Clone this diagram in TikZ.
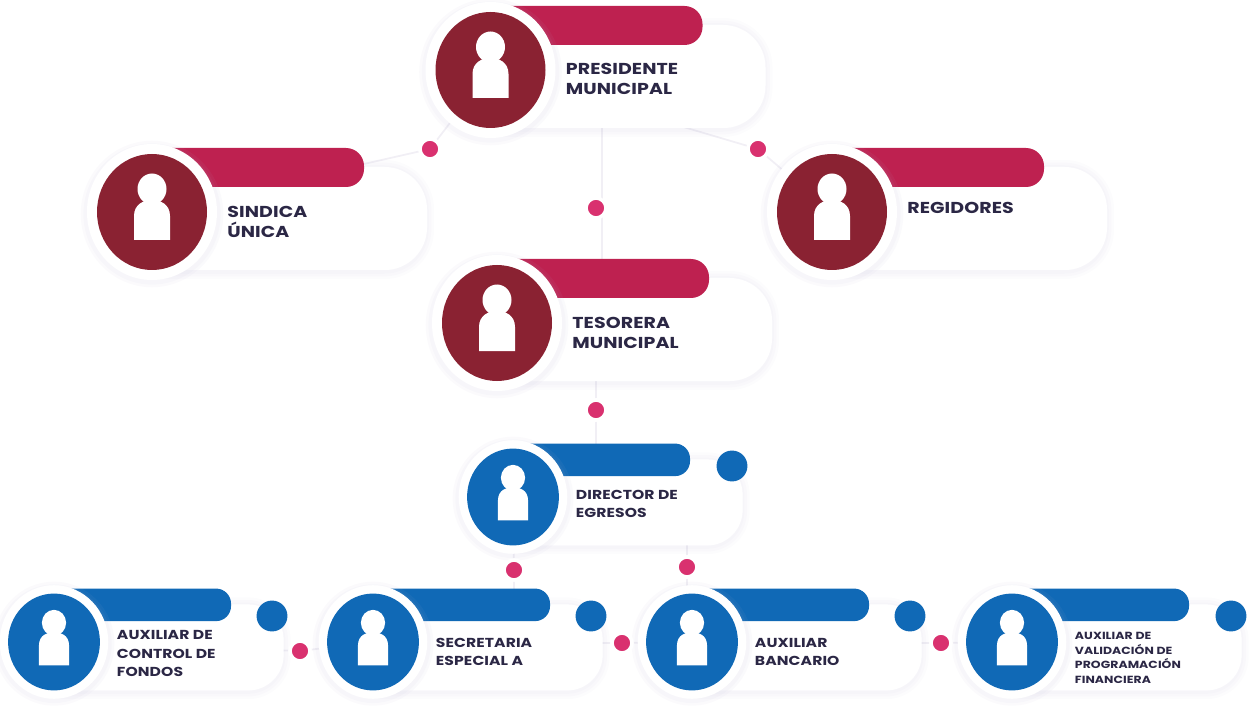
\documentclass[tikz,border=0pt]{standalone}
\usepackage{fontspec}
\setmainfont[FakeStretch=1.2,LetterSpace=0.6]{Poppins}
\usepackage{tikz}
\usetikzlibrary{backgrounds}

\definecolor{redDark}{HTML}{8A2232}
\definecolor{redBar}{HTML}{BE2150}
\definecolor{blueDark}{HTML}{1069B6}
\definecolor{blueBar}{HTML}{1069B6}
\definecolor{inkText}{HTML}{2B2745}
\definecolor{pinkDot}{HTML}{D9316F}
\definecolor{softLine}{HTML}{F1EFF5}
\definecolor{softShade}{HTML}{B9B2D2}

\tikzset{
    bigtext/.style={font=\fontsize{9}{11.8}\selectfont\bfseries},
    midtext/.style={font=\fontsize{7.4}{10.4}\selectfont\bfseries},
    tinytext/.style={font=\fontsize{5.9}{8.2}\selectfont\bfseries},
    pinkdot/.style={circle,fill=pinkDot,draw=white,line width=2pt,minimum size=20*0.567pt,inner sep=0pt},
    bluedot/.style={circle,fill=blueDark,minimum size=31*0.567pt,inner sep=0pt},
    softlink/.style={draw=softLine,line width=1pt}
}

% name, x, y, scale, colour set, text shift, text style, text
\newcommand{\orgcard}[8]{
    \begin{scope}[shift={(#2,#3)},scale=#4]
        \pgfmathsetlengthmacro{\cardrad}{#4*0.85cm}
        \pgfmathsetlengthmacro{\barrad}{#4*0.36cm}
        \foreach \w in {8,5,2}
            \draw[softShade,opacity=0.045,line width=\w pt,rounded corners=\cardrad] (-30,-45) rectangle (275,60);
        \fill[white,rounded corners=\cardrad] (-30,-45) rectangle (275,58);
        \fill[#5Bar,rounded corners=\barrad] (0,-64) rectangle (212,-25);
        \foreach \w in {6,3}
            \draw[softShade,opacity=0.06,line width=\w pt] (0,2) circle [x radius=66,y radius=68];
        \fill[white] (0,0) circle [x radius=65,y radius=68];
        \fill[#5Dark] (0,0) circle [x radius=55,y radius=58];
        \fill[white] (0,-23) circle [x radius=14.5,y radius=15.5];
        \fill[white] (-18,28) -- (-18,4) .. controls (-18,-8) and (-8,-12) .. (0,-12)
            .. controls (8,-12) and (18,-8) .. (18,4) -- (18,28) -- cycle;
        \node[inner sep=0pt] (#1) at (0,0) {};
        \node[#7,anchor=west,align=left,text=inkText,inner sep=0pt] (#1text) at (75,#6) {#8};
    \end{scope}
}

\begin{document}
\begin{tikzpicture}[x=0.02cm,y=-0.02cm]
    \useasboundingbox (0,0) rectangle (1249,706);

    \orgcard{presidente}{490.5}{70}{1}{red}{9}{bigtext}{PRESIDENTE\\MUNICIPAL}
    \orgcard{sindica}{152}{212}{1}{red}{10}{bigtext}{SINDICA\\ÚNICA}
    \orgcard{regidores}{832}{212}{1}{red}{-4}{bigtext}{REGIDORES}
    \orgcard{tesorera}{497}{323}{1}{red}{10}{bigtext}{TESORERA\\MUNICIPAL}
    \orgcard{director}{513}{497}{0.835}{blue}{8}{midtext}{DIRECTOR DE\\EGRESOS}
    \orgcard{fondos}{54}{642}{0.835}{blue}{14}{midtext}{AUXILIAR DE\\CONTROL DE\\FONDOS}
    \orgcard{secretaria}{373}{642}{0.835}{blue}{12}{midtext}{SECRETARIA\\ESPECIAL A}
    \orgcard{bancario}{692}{642}{0.835}{blue}{12}{midtext}{AUXILIAR\\BANCARIO}
    \orgcard{validacion}{1012}{642}{0.835}{blue}{19}{tinytext}{AUXILIAR DE\\VALIDACIÓN DE\\PROGRAMACIÓN\\FINANCIERA}

    \node[bluedot] (badgeA) at (732,466) {};
    \node[bluedot] (badgeB) at (272,616) {};
    \node[bluedot] (badgeC) at (591,616) {};
    \node[bluedot] (badgeD) at (910,616) {};
    \node[bluedot] (badgeE) at (1231,616) {};

    \node[pinkdot] (dotSindica) at (430,149) {};
    \node[pinkdot] (dotRegidores) at (758,149) {};
    \node[pinkdot] (dotTesorera) at (596,208) {};
    \node[pinkdot] (dotDirector) at (596,410) {};
    \node[pinkdot] (dotSecretaria) at (514,570) {};
    \node[pinkdot] (dotBancario) at (687,567) {};
    \node[pinkdot] (dotFondos) at (300,651) {};
    \node[pinkdot] (dotEspecial) at (622,643) {};
    \node[pinkdot] (dotValida) at (941,643) {};

    \coordinate (trunkTop) at (602,120);
    \coordinate (trunkEnd) at (602,270);
    \coordinate (dropLeft) at (514,610);
    \coordinate (dropRight) at (687,610);

    \begin{scope}[on background layer]
        \draw[softlink] (presidente) -- (dotSindica) -- (sindica);
        \draw[softlink] (presidente) -- (dotRegidores) -- (regidores);
        \draw[softlink] (trunkTop) -- (trunkEnd);
        \draw[softlink] (dotDirector) -- ++(0,-30) (dotDirector) -- ++(0,40);
        \draw[softlink] (director) -- (dotSecretaria) -- (dropLeft);
        \draw[softlink] (dotBancario) -- ++(0,-30) (dotBancario) -- (dropRight);
        \draw[softlink] (fondos) -- (dotFondos) -- (secretaria);
        \draw[softlink] (secretaria) -- (dotEspecial) -- (bancario);
        \draw[softlink] (bancario) -- (dotValida) -- (validacion);
    \end{scope}
\end{tikzpicture}
\end{document}
